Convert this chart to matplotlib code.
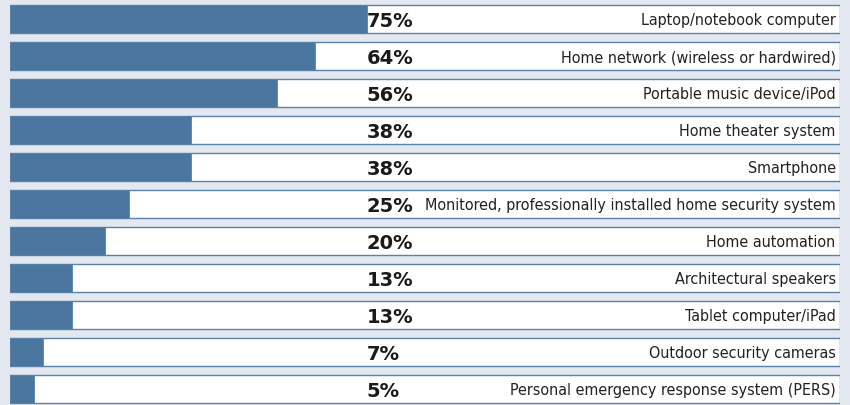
import numpy as np
import matplotlib
matplotlib.use('Agg')
import matplotlib.pyplot as plt

categories = ['Laptop/notebook computer',
              'Home network (wireless or hardwired)',
              'Portable music device/iPod',
              'Home theater system',
              'Smartphone',
              'Monitored, professionally installed home security system',
              'Home automation',
              'Architectural speakers',
              'Tablet computer/iPad',
              'Outdoor security cameras',
              'Personal emergency response system (PERS)']
values = [75, 64, 56, 38, 38, 25, 20, 13, 13, 7, 5]

bg = '#e3e7f0'
bar_color = '#4a76a0'
edge = '#5b82ab'

fig = plt.figure(figsize=(8.5, 4.06), dpi=100, facecolor=bg)
# 1% = 4.76 px, plot area runs from x=10 to x=840 px
ax = fig.add_axes([10/850, 0, 830/850, 1])
ax.set_facecolor(bg)
xmax = 830 / 4.76
y = np.arange(len(values))
h = 28 / 37

ax.barh(y, xmax, height=h, color='white', edgecolor=edge, linewidth=1.0)
ax.barh(y, values, height=h, color=bar_color, edgecolor=edge, linewidth=0.6)

for i, (v, c) in enumerate(zip(values, categories)):
    ax.text(74.9, i + 0.04, f'{v}%', ha='left', va='center',
            fontsize=14, fontweight='heavy', color='#1a1a1a',
            family=['DejaVu Sans'])
    ax.text(xmax - 0.9, i + 0.02, c, ha='right', va='center',
            fontsize=11.5, color='#222222', fontstretch='condensed',
            family=['DejaVu Sans'])

ax.set_xlim(0, xmax)
ax.set_ylim(10 + 16/37, -20/37)
ax.axis('off')

fig.savefig('out.png', dpi=100, facecolor=bg)
